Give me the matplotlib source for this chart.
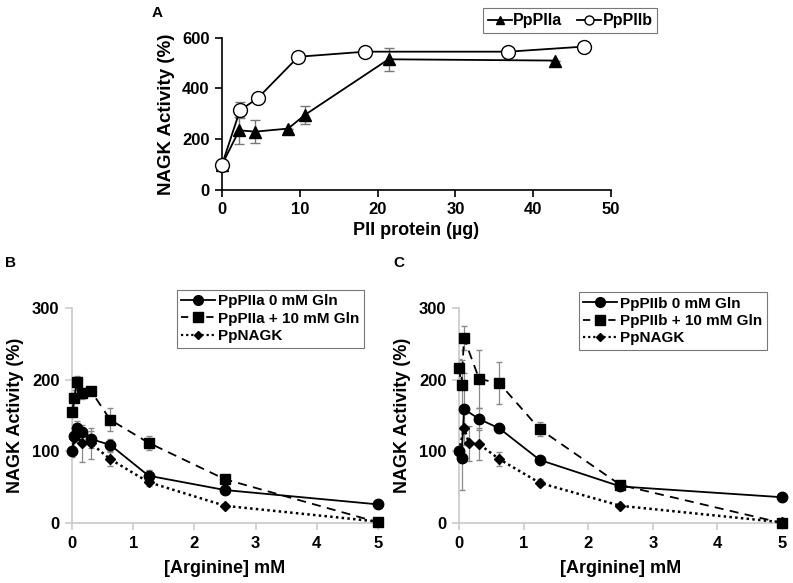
import numpy as np
import matplotlib.pyplot as plt
from matplotlib.lines import Line2D

plt.rcParams['font.family'] = ['Liberation Sans', 'DejaVu Sans']
plt.rcParams['font.weight'] = 'bold'

# panel A: PII protein titration
a_x_iia = [0, 2.2, 4.3, 8.5, 10.7, 21.4, 42.8]
a_y_iia = [100, 235, 230, 242, 297, 515, 510]
a_e_iia = [0, 52, 44, 0, 35, 45, 0]
a_x_iib = [0, 2.3, 4.6, 9.8, 18.4, 36.8, 46.5]
a_y_iib = [100, 314, 362, 525, 545, 545, 565]
a_e_iib = [0, 32, 0, 0, 0, 0, 0]

# panels B and C: arginine titration
arg = [0, 0.039, 0.078, 0.156, 0.3125, 0.625, 1.25, 2.5, 5]

b_gln0 = [100, 121, 132, 127, 117, 109, 66, 46, 26]
b_gln0_err = [8, 8, 10, 6, 12, 8, 8, 4, 0]
b_gln10 = [155, 174, 197, 181, 184, 144, 112, 61, 1]
b_gln10_err = [17, 12, 8, 8, 0, 16, 10, 6, 0]
b_nagk = [100, 118, 124, 111, 111, 89, 57, 24, 2]
b_nagk_err = [0, 0, 0, 26, 22, 10, 6, 0, 0]

c_arg0 = [0, 0.039, 0.078, 0.3125, 0.625, 1.25, 2.5, 5]
c_gln0 = [101, 91, 159, 145, 132, 88, 51, 36]
c_gln0_err = [0, 45, 50, 15, 6, 0, 0, 0]
c_gln10 = [216, 193, 258, 201, 195, 131, 53, 0]
c_gln10_err = [13, 35, 17, 40, 29, 10, 5, 0]
c_nagk_x = [0, 0.078, 0.156, 0.3125, 0.625, 1.25, 2.5, 5]
c_nagk = [100, 133, 111, 110, 89, 56, 24, 1]
c_nagk_err = [0, 0, 25, 22, 10, 5, 0, 0]

fig = plt.figure(figsize=(7.93, 5.83), dpi=100)

# ---------- A ----------
axA = fig.add_axes([0.280, 0.6741, 0.4905, 0.2612])
axA.errorbar(a_x_iia, a_y_iia, yerr=a_e_iia, fmt='none', ecolor='#777777',
             elinewidth=1, capsize=3.5, zorder=1)
axA.errorbar(a_x_iib, a_y_iib, yerr=a_e_iib, fmt='none', ecolor='#777777',
             elinewidth=1, capsize=3.5, zorder=1)
axA.plot(a_x_iia, a_y_iia, color='black', lw=1.3, marker='^', ms=9,
         mfc='black', mec='black', label='PpPIIa', zorder=3, clip_on=False)
axA.plot(a_x_iib, a_y_iib, color='black', lw=1.3, marker='o', ms=10,
         mfc='white', mec='black', mew=1, label='PpPIIb', zorder=4, clip_on=False)
axA.set_xlim(0, 50)
axA.set_ylim(0, 600)
axA.set_xticks([0, 10, 20, 30, 40, 50])
axA.set_yticks([0, 200, 400, 600])
for s in ['top', 'right']:
    axA.spines[s].set_visible(False)
for s in ['left', 'bottom']:
    axA.spines[s].set_linewidth(1.2)
axA.tick_params(direction='out', length=5, width=1.2, labelsize=12, pad=4)
axA.set_xlabel('PII protein (\u00b5g)', fontsize=13, fontweight='bold', labelpad=3)
axA.set_ylabel('NAGK Activity (%)', fontsize=13.5, fontweight='bold', labelpad=5)
legA = axA.legend(loc='upper left', bbox_to_anchor=(0.65, 1.245), ncol=2,
                  frameon=True, fancybox=False, edgecolor='#555555', fontsize=11.5,
                  handlelength=1.5, columnspacing=0.9, handletextpad=0.1,
                  borderpad=0.3, markerscale=0.65)
legA.get_frame().set_linewidth(0.8)
fig.text(157 / 793, 1 - 13 / 583, 'A', fontsize=11, fontweight='bold',
         ha='center', va='center')


def arg_panel(ax, xs, s0, e0, s10, e10, xn, sn, en):
    grey = '#c8c8c8'
    ax.errorbar(xs, s0, yerr=e0, fmt='none', ecolor='#8a8a8a', elinewidth=0.9,
                capsize=2.5, zorder=1)
    ax.errorbar(xs, s10, yerr=e10, fmt='none', ecolor='#8a8a8a', elinewidth=0.9,
                capsize=2.5, zorder=1)
    ax.errorbar(xn, sn, yerr=en, fmt='none', ecolor='#8a8a8a', elinewidth=0.9,
                capsize=2.5, zorder=1)
    ax.plot(xs, s0, color='black', lw=1.3, ls='-', marker='o', ms=7.5,
            zorder=4, clip_on=False)
    ax.plot(xs, s10, color='black', lw=1.3, ls=(0, (5, 3.5)), marker='s', ms=7.5,
            zorder=3, clip_on=False)
    ax.plot(xn, sn, color='black', lw=1.8, ls=(0, (1, 1.3)), marker='D', ms=5,
            zorder=5, clip_on=False)
    ax.set_xlim(0, 5)
    ax.set_ylim(0, 300)
    ax.set_xticks([0, 1, 2, 3, 4, 5])
    ax.set_yticks([0, 100, 200, 300])
    for s in ['top', 'right']:
        ax.spines[s].set_visible(False)
    for s in ['left', 'bottom']:
        ax.spines[s].set_color(grey)
        ax.spines[s].set_linewidth(1.2)
    ax.tick_params(direction='out', length=5, width=1.1, color=grey,
                   labelsize=12, pad=4)
    ax.set_xlabel('[Arginine] mM', fontsize=13, fontweight='bold', labelpad=7)
    ax.set_ylabel('NAGK Activity (%)', fontsize=13, fontweight='bold', labelpad=6)
    handles = [
        Line2D([], [], color='black', lw=1.3, ls='-', marker='o', ms=7),
        Line2D([], [], color='black', lw=1.3, ls=(0, (4, 3)), marker='s', ms=7),
        Line2D([], [], color='black', lw=1.6, ls=(0, (1, 1.3)), marker='D', ms=4.5),
    ]
    return handles


# ---------- B ----------
axB = fig.add_axes([0.0908, 0.1029, 0.3859, 0.3688])
hB = arg_panel(axB, arg, b_gln0, b_gln0_err, b_gln10, b_gln10_err,
               arg, b_nagk, b_nagk_err)
legB = axB.legend(hB, ['PpPIIa 0 mM Gln', 'PpPIIa + 10 mM Gln', 'PpNAGK'],
                  loc='upper left', bbox_to_anchor=(0.317, 1.12), frameon=True,
                  fancybox=False, edgecolor='#555555', fontsize=11,
                  handlelength=2.2, handletextpad=0.2, borderpad=0.3,
                  labelspacing=0.22)
legB.get_frame().set_linewidth(0.8)
fig.text(10 / 793, 1 - 263 / 583, 'B', fontsize=11, fontweight='bold',
         ha='center', va='center')

# ---------- C ----------
axC = fig.add_axes([0.5788, 0.1029, 0.4073, 0.3688])
hC = arg_panel(axC, c_arg0, c_gln0, c_gln0_err, c_gln10, c_gln10_err,
               c_nagk_x, c_nagk, c_nagk_err)
legC = axC.legend(hC, ['PpPIIb 0 mM Gln', 'PpPIIb + 10 mM Gln', 'PpNAGK'],
                  loc='upper left', bbox_to_anchor=(0.347, 1.11), frameon=True,
                  fancybox=False, edgecolor='#555555', fontsize=11,
                  handlelength=2.2, handletextpad=0.2, borderpad=0.3,
                  labelspacing=0.22)
legC.get_frame().set_linewidth(0.8)
fig.text(399 / 793, 1 - 263 / 583, 'C', fontsize=11, fontweight='bold',
         ha='center', va='center')

fig.savefig('out.png', dpi=100)
